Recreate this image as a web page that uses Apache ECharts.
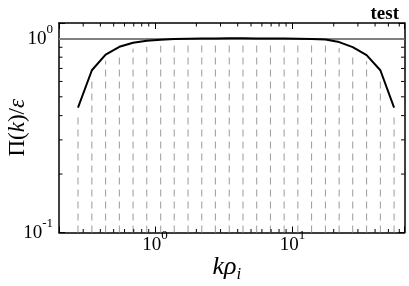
<!DOCTYPE html>
<html><head><meta charset="utf-8">
<script src="https://cdn.jsdelivr.net/npm/echarts@6/dist/echarts.min.js"></script>
<style>html,body{margin:0;padding:0;background:#fff}#c{width:409px;height:286px}</style>
</head><body><div id="c"></div>
<script>
const kRho = [0.275, 0.347, 0.437, 0.550, 0.692, 0.871, 1.10, 1.38, 1.74, 2.19, 2.75, 3.47,
              4.37, 5.50, 6.92, 8.71, 10.96, 13.8, 17.4, 21.9, 27.5, 34.7, 43.7, 55.0];
const piOverEps = [0.44, 0.685, 0.825, 0.905, 0.95, 0.973, 0.985, 0.992, 0.996, 0.998, 0.999, 1.0,
                   1.0, 0.999, 0.998, 0.997, 0.995, 0.992, 0.986, 0.957, 0.902, 0.82, 0.685, 0.44];
const refLevel = 1;
const xRange = [0.2, 65.5];
const yRange = [0.1, 1.2];
const xMinorTicks = [0.3, 0.4, 0.5, 0.6, 0.7, 0.8, 0.9, 2, 3, 4, 5, 6, 7, 8, 9, 20, 30, 40, 50, 60];
const yMinorTicks = [0.2, 0.3, 0.4, 0.5, 0.6, 0.7, 0.8, 0.9];

const SERIF = 'Liberation Serif, DejaVu Serif, serif';
const powLabel = v => {
  const l = Math.log10(v), e = Math.round(l);
  if (Math.abs(l - e) > 1e-6) return '';
  return '{b|10}{s|' + e + '}';
};
const labelRich = {
  b: {fontFamily: SERIF, fontSize: 19, color: '#000', lineHeight: 20, verticalAlign: 'bottom'},
  s: {fontFamily: SERIF, fontSize: 13, color: '#000', lineHeight: 14, verticalAlign: 'bottom', padding: [0, 0, 12, 0]}
};
const axisLineStyle = {color: '#000', width: 1.5};

const chart = echarts.init(document.getElementById('c'), null, {renderer: 'canvas'});
const baseX = {
  type: 'log', min: xRange[0], max: xRange[1],
  axisLine: {show: true, lineStyle: axisLineStyle},
  axisTick: {show: true, inside: true, length: 6, lineStyle: {color: '#000', width: 1}},
  splitLine: {show: false}
};
const baseY = {
  type: 'log', min: yRange[0], max: yRange[1],
  axisLine: {show: true, lineStyle: axisLineStyle},
  axisTick: {show: true, inside: true, length: 6, lineStyle: {color: '#000', width: 1}},
  splitLine: {show: false}
};

function minorTickRenderer(isX) {
  return function (params, api) {
    const cs = params.coordSys;
    const v = api.value(isX ? 0 : 1);
    const len = 3.5;
    const style = {stroke: '#000', lineWidth: 1};
    if (isX) {
      const x = api.coord([v, 1])[0];
      return {type: 'group', children: [
        {type: 'line', shape: {x1: x, y1: cs.y + cs.height, x2: x, y2: cs.y + cs.height - len}, style},
        {type: 'line', shape: {x1: x, y1: cs.y, x2: x, y2: cs.y + len}, style}
      ]};
    } else {
      const y = api.coord([1, v])[1];
      return {type: 'group', children: [
        {type: 'line', shape: {x1: cs.x, y1: y, x2: cs.x + len, y2: y}, style},
        {type: 'line', shape: {x1: cs.x + cs.width, y1: y, x2: cs.x + cs.width - len, y2: y}, style}
      ]};
    }
  };
}

chart.setOption({
  animation: false,
  backgroundColor: '#fff',
  title: {
    text: 'test', right: 5, top: 0,
    textStyle: {fontFamily: SERIF, fontWeight: 'bold', fontSize: 19, color: '#000'}
  },
  grid: {left: 59, top: 23, right: 4.5, bottom: 53.5, containLabel: false, outerBoundsMode: 'none'},
  xAxis: [
    Object.assign({}, baseX, {
      position: 'bottom',
      axisLabel: {formatter: powLabel, rich: labelRich, margin: 2},
      name: '{i|kρ}{sub|i}', nameLocation: 'middle', nameGap: 22, nameMoveOverlap: false,
      nameTextStyle: {
        padding: [0, 10, 0, 0],
        rich: {
          i: {fontFamily: SERIF, fontStyle: 'italic', fontSize: 26, color: '#000', lineHeight: 26, verticalAlign: 'top'},
          sub: {fontFamily: SERIF, fontStyle: 'italic', fontSize: 17, color: '#000', lineHeight: 17, verticalAlign: 'top', padding: [12, 0, 0, 0]}
        }
      }
    }),
    Object.assign({}, baseX, {position: 'top', axisLabel: {show: false}})
  ],
  yAxis: [
    Object.assign({}, baseY, {
      position: 'left',
      axisLabel: {formatter: powLabel, rich: labelRich, margin: 6},
      name: '{n|Π(}{i|k}{n|)/}{i|ε}', nameLocation: 'middle', nameGap: 28, nameRotate: 90, nameMoveOverlap: false,
      nameTextStyle: {
        rich: {
          n: {fontFamily: SERIF, fontSize: 23, color: '#000', lineHeight: 26},
          i: {fontFamily: SERIF, fontStyle: 'italic', fontSize: 23, color: '#000', lineHeight: 26}
        }
      }
    }),
    Object.assign({}, baseY, {position: 'right', axisLabel: {show: false}})
  ],
  series: [
    {
      type: 'custom', name: 'stems', z: 1, xAxisIndex: 0, yAxisIndex: 0,
      data: kRho.map((k, i) => [k, piOverEps[i]]),
      renderItem: function (params, api) {
        const x = api.value(0), y = api.value(1);
        const p0 = api.coord([x, yRange[0]]);
        const p1 = api.coord([x, y]);
        return {type: 'line', shape: {x1: p0[0], y1: p0[1], x2: p1[0], y2: p1[1] + 6},
          style: {stroke: '#9a9a9a', lineWidth: 1, lineDash: [7, 5]}};
      }
    },
    {
      type: 'custom', name: 'xminor', z: 5,
      data: xMinorTicks.map(v => [v, 1]),
      renderItem: minorTickRenderer(true)
    },
    {
      type: 'custom', name: 'yminor', z: 5,
      data: yMinorTicks.map(v => [1, v]),
      renderItem: minorTickRenderer(false)
    },
    {
      type: 'line', name: 'Pi/eps', z: 4,
      data: kRho.map((k, i) => [k, piOverEps[i]]),
      showSymbol: false, symbol: 'none',
      lineStyle: {color: '#000', width: 2},
      markLine: {
        silent: true, symbol: 'none', z: 3,
        label: {show: false},
        lineStyle: {color: '#808080', width: 2, type: 'solid'},
        data: [{yAxis: refLevel}]
      }
    }
  ]
});
</script>
</body></html>
